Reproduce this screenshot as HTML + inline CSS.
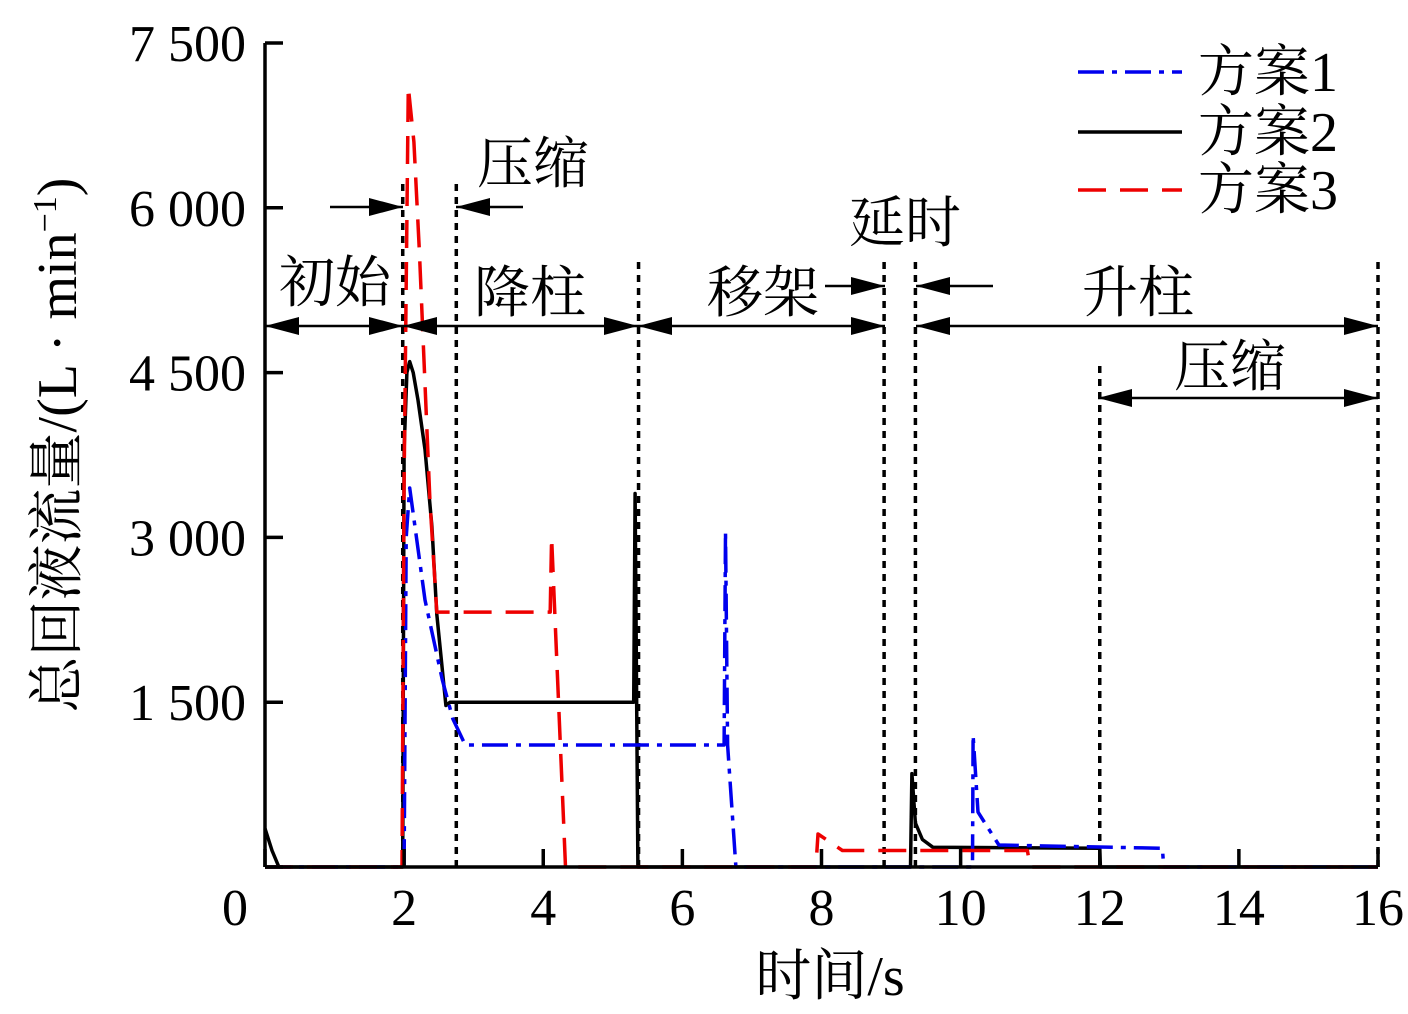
<!DOCTYPE html>
<html><head><meta charset="utf-8"><style>
body{margin:0;background:#fff}
svg{display:block}
text{font-family:"Liberation Serif","Noto Serif CJK SC",serif;fill:#000}
</style></head><body>
<svg id="c" width="1408" height="1014" xmlns="http://www.w3.org/2000/svg"></svg>
<script>
const xTicks=[0,2,4,6,8,10,12,14,16];
const yTicks=[0,1500,3000,4500,6000,7500];
const yTickLabels=["","1 500","3 000","4 500","6 000","7 500"];
const s1x=[0,2.0,2.03,2.08,2.3,2.55,2.7,2.88,6.6,6.62,6.65,6.77,10.17,10.18,10.25,10.55,12.9,12.92,16];
const s1y=[0,0,3000,3450,2430,1700,1350,1110,1110,3050,1110,0,0,1200,500,200,170,0,0];
const s2x=[0,0.1,0.2,1.98,2.0,2.04,2.08,2.13,2.2,2.3,2.4,2.47,2.6,2.66,5.3,5.32,5.36,9.28,9.3,9.35,9.45,9.6,12.0,12.01,16];
const s2y=[350,150,0,0,3800,4500,4600,4500,4250,3800,3100,2300,1470,1500,1500,3400,0,0,850,400,250,180,170,0,0];
const s3x=[0,1.97,2.0,2.06,2.14,2.22,2.37,2.47,4.1,4.12,4.32,7.92,7.95,8.3,10.96,11.0,16];
const s3y=[0,0,3500,7100,6600,5600,3340,2320,2320,3000,0,0,300,150,150,0,0];
const dividers=[1.98,2.75,5.37,8.9,9.35,12,16];
const dividerTop=[6250,6230,5510,5510,5510,4600,5510];

const X0=265,X1=1378,Y0=867,Y1=43;
const sx=v=>X0+(X1-X0)*v/16, sy=v=>Y0-(Y0-Y1)*v/7500;
const svg=document.getElementById('c');const NS='http://www.w3.org/2000/svg';
function el(t,a,p){const e=document.createElementNS(NS,t);for(const k in a)e.setAttribute(k,a[k]);(p||svg).appendChild(e);return e;}
function txt(x,y,s,size,anchor,name,extra){const e=el('text',Object.assign({x:x,y:y,'font-size':size,'text-anchor':anchor||'start'},extra||{}));e.textContent=s;


return e;}

dividers.forEach((d,i)=>{const l=el('line',{x1:sx(d),x2:sx(d),y1:sy(0),y2:sy(dividerTop[i]),stroke:'#000','stroke-width':3.5,'stroke-dasharray':'7 6'});

});

function series(xs,ys,color,dash,name){const d=xs.map((v,i)=>(i?'L':'M')+sx(v).toFixed(1)+' '+sy(ys[i]).toFixed(1)).join(' ');
const p=el('path',{d:d,fill:'none',stroke:color,'stroke-width':3.5,'stroke-dasharray':dash,'stroke-linejoin':'round'});

}
series(s2x,s2y,'#000','none','series-plan2');
series(s1x,s1y,'#0000ee','26 8 5 8','series-plan1');
series(s3x,s3y,'#ee0000','28 14','series-plan3');

el('line',{x1:X0,x2:X1,y1:Y0,y2:Y0,stroke:'#000','stroke-width':3.5});
el('line',{x1:X0,x2:X0,y1:Y0,y2:Y1,stroke:'#000','stroke-width':3.5});
xTicks.forEach(v=>{el('line',{x1:sx(v),x2:sx(v),y1:Y0,y2:Y0-18,stroke:'#000','stroke-width':3.5});
txt(v===0?235:sx(v),925,String(v),52,'middle','x-tick-label');});
yTicks.forEach((v,i)=>{el('line',{x1:X0,x2:X0+18,y1:sy(v),y2:sy(v),stroke:'#000','stroke-width':3.5});
if(yTickLabels[i])txt(246,sy(v)+18,yTickLabels[i],52,'end','y-tick-label');});
txt(830,995,'时间/s',56,'middle','x-axis-title');
const yt=txt(0,0,'总回液流量/(L · min',56,'middle','y-axis-title',{transform:'translate(76,445) rotate(-90)'});
const sup=document.createElementNS(NS,'tspan');sup.setAttribute('font-size',34);sup.setAttribute('dy',-20);sup.textContent='−1';yt.appendChild(sup);
const cl=document.createElementNS(NS,'tspan');cl.setAttribute('dy',20);cl.textContent=')';yt.appendChild(cl);

function arrow(x1,x2,y,h1,h2){el('line',{x1:x1,x2:x2,y1:y,y2:y,stroke:'#000','stroke-width':2.5});
function head(x,dir){el('polygon',{points:`${x},${y} ${x-dir*34},${y-9} ${x-dir*34},${y+9}`,fill:'#000'});}
if(h1)head(x1,h1);if(h2)head(x2,h2);}
arrow(265,403,326,-1,1);
arrow(403,638,326,-1,1);
arrow(638,885,326,-1,1);
arrow(916,1378,326,-1,1);
arrow(330,403,207,0,1);
arrow(456,523,207,-1,0);
arrow(825,885,286,0,1);
arrow(916,993,286,-1,0);
arrow(1098,1378,398,-1,1);
txt(533,183,'压缩',56,'middle','phase-label-compress');
txt(335,302,'初始',56,'middle','phase-label-initial');
txt(530,312,'降柱',56,'middle','phase-label-lower');
txt(763,312,'移架',56,'middle','phase-label-move');
txt(905,242,'延时',56,'middle','phase-label-delay');
txt(1138,312,'升柱',56,'middle','phase-label-raise');
txt(1230,386,'压缩',56,'middle','phase-label-compress2');

[['方案1','#0000ee','26 8 5 8',72],['方案2','#000','none',132],['方案3','#ee0000','28 14',190]].forEach(r=>{
const l=el('line',{x1:1078,x2:1182,y1:r[3],y2:r[3],stroke:r[1],'stroke-width':3.5,'stroke-dasharray':r[2]});


txt(1198,r[3]+19,r[0],56,'start','legend-entry');});
</script>
</body></html>
